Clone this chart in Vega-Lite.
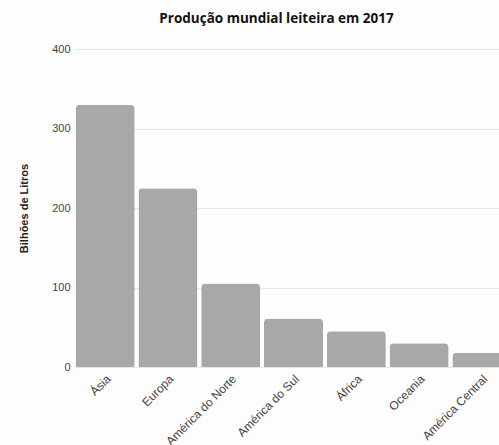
{
  "$schema": "https://vega.github.io/schema/vega-lite/v6.json",
  "autosize": "none",
  "padding": {"left": 75, "top": 49, "right": 0, "bottom": 78},
  "width": 437,
  "height": 318,
  "background": "#fdfdfd",
  "title": {
    "text": "Produção mundial leiteira em 2017",
    "font": "Open Sans",
    "fontSize": 13.5,
    "fontWeight": "bold",
    "color": "#111111",
    "anchor": "middle",
    "dx": -17,
    "offset": 18
  },
  "data": {
    "values": [
      {"regiao": "Ásia", "producao": 330},
      {"regiao": "Europa", "producao": 225},
      {"regiao": "América do Norte", "producao": 105},
      {"regiao": "América do Sul", "producao": 61},
      {"regiao": "África", "producao": 45},
      {"regiao": "Oceania", "producao": 30},
      {"regiao": "América Central", "producao": 18}
    ]
  },
  "mark": {"type": "bar", "color": "#a8a8a8", "cornerRadiusTopLeft": 4, "cornerRadiusTopRight": 4},
  "encoding": {
    "x": {
      "field": "regiao",
      "type": "nominal",
      "sort": null,
      "scale": {"paddingInner": 0.06, "paddingOuter": 0.01},
      "axis": {
        "title": null,
        "labelAngle": -45,
        "labelFont": "Liberation Sans",
        "labelFontSize": 12,
        "labelColor": "#444444",
        "ticks": false,
        "domain": false,
        "labelPadding": 6
      }
    },
    "y": {
      "field": "producao",
      "type": "quantitative",
      "scale": {"domain": [0, 400]},
      "axis": {
        "title": "Bilhões de Litros",
        "titleFont": "Liberation Sans",
        "titleFontSize": 11,
        "titleFontWeight": "bold",
        "titleColor": "#222222",
        "titlePadding": 22,
        "values": [0, 100, 200, 300, 400],
        "labelFont": "Liberation Sans",
        "labelFontSize": 11,
        "labelColor": "#444444",
        "ticks": false,
        "domain": false,
        "labelPadding": 5,
        "gridColor": "#e6e6e6"
      }
    }
  },
  "config": {"view": {"stroke": null}}
}
